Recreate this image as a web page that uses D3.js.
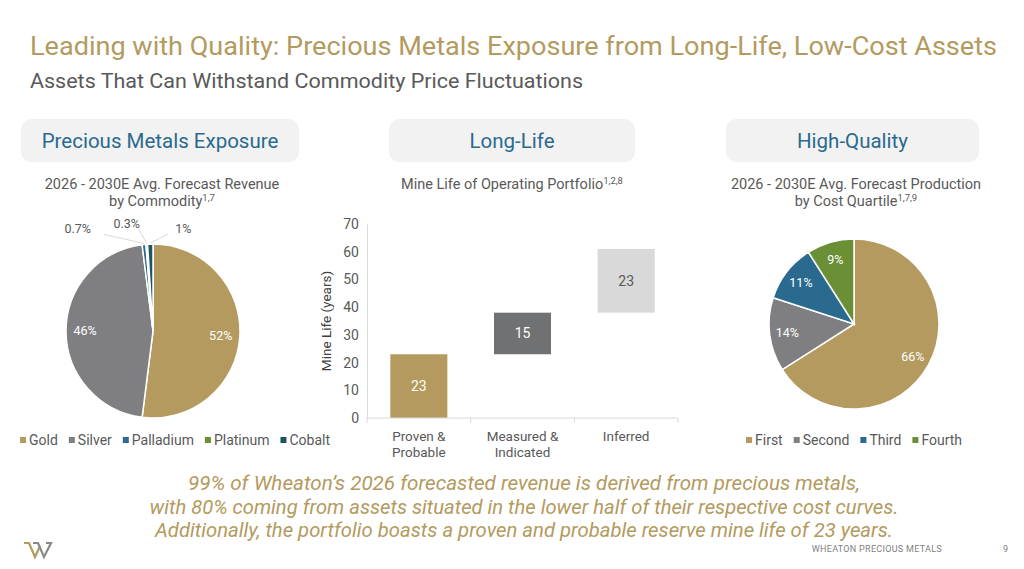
<!DOCTYPE html>
<html>
<head>
<meta charset="utf-8">
<script src="https://cdn.jsdelivr.net/npm/d3@7"></script>
<style>
  html, body { margin: 0; padding: 0; background: #fff; }
  #main { width: 1024px; height: 569px; overflow: hidden; }
  text { font-family: Roboto, "Noto Sans", sans-serif; }
</style>
</head>
<body>
<div id="main"></div>
<script>
// revenue by commodity (left pie)
const commodities = ['Gold', 'Silver', 'Palladium', 'Platinum', 'Cobalt'];
const commodityShares = [52, 46, 0.7, 0.3, 1];
const commodityLabels = ['52%', '46%', '0.7%', '0.3%', '1%'];

// production by cost quartile (right pie)
const quartiles = ['First', 'Second', 'Third', 'Fourth'];
const quartileShares = [66, 14, 11, 9];
const quartileLabels = ['66%', '14%', '11%', '9%'];

// mine life (middle floating bars)
const reserveCategories = ['Proven & Probable', 'Measured & Indicated', 'Inferred'];
const reserveLines = [['Proven &', 'Probable'], ['Measured &', 'Indicated'], ['Inferred']];
const reserveYears = [23, 15, 23];
const yTicks = [0, 10, 20, 30, 40, 50, 60, 70];

const gold = '#b49a5e', grey = '#7f7f82', blue = '#2a6a8f', green = '#6a8f34', teal = '#1f5461';
const commodityColor = d3.scaleOrdinal().domain(commodities).range([gold, grey, blue, green, teal]);
const quartileColor = d3.scaleOrdinal().domain(quartiles).range([gold, grey, blue, green]);
const barColor = d3.scaleOrdinal().domain(reserveCategories).range([gold, '#707173', '#d9d9d9']);

const width = 1024, height = 569;

let svg = d3.select('#main')
    .append('svg')
        .attr('width', width)
        .attr('height', height);

// fit a text element to a given width
function fitText(sel, w) {
    const natural = sel.node().getComputedTextLength();
    if (Math.abs(natural - w) > 2) sel.attr('textLength', w).attr('lengthAdjust', 'spacingAndGlyphs');
}

// ---------- titles ----------
let title = svg.append('text')
    .attr('x', 30).attr('y', 55)
    .attr('font-size', 26)
    .attr('fill', '#b39b5f')
    .text('Leading with Quality: Precious Metals Exposure from Long-Life, Low-Cost Assets');
fitText(title, 967);

let subtitle = svg.append('text')
    .attr('x', 30).attr('y', 88)
    .attr('font-size', 20)
    .attr('fill', '#595959')
    .text('Assets That Can Withstand Commodity Price Fluctuations');
fitText(subtitle, 553);

// ---------- header boxes ----------
const headers = [
    { x: 21, w: 278, text: 'Precious Metals Exposure' },
    { x: 389, w: 246, text: 'Long-Life' },
    { x: 726, w: 253, text: 'High-Quality' }
];
svg.selectAll('.hbox')
    .data(headers)
    .enter()
    .append('rect')
        .attr('class', 'hbox')
        .attr('x', d => d.x).attr('y', 119)
        .attr('width', d => d.w).attr('height', 43)
        .attr('rx', 10)
        .attr('fill', '#f2f2f2');
svg.selectAll('.htext')
    .data(headers)
    .enter()
    .append('text')
        .attr('class', 'htext')
        .attr('x', d => d.x + d.w / 2).attr('y', 148)
        .attr('text-anchor', 'middle')
        .attr('font-size', 20.5)
        .attr('fill', blue)
        .text(d => d.text);

// chart sub-headings with superscripts
function subHeading(cx, lines) {
    lines.forEach((l, i) => {
        let t = svg.append('text')
            .attr('x', cx).attr('y', 189 + i * 17)
            .attr('text-anchor', 'middle')
            .attr('font-size', 14.5)
            .attr('fill', '#595959');
        t.append('tspan').text(l[0]);
        if (l[1]) t.append('tspan').attr('font-size', 9.5).attr('dy', -5).text(l[1]);
    });
}
subHeading(162, [['2026 - 2030E Avg. Forecast Revenue'], ['by Commodity', '1,7']]);
subHeading(512, [['Mine Life of Operating Portfolio', '1,2,8']]);
subHeading(856, [['2026 - 2030E Avg. Forecast Production'], ['by Cost Quartile', '1,7,9']]);

// ---------- left pie ----------
const pieL = { cx: 153, cy: 331, r: 87 };
const pie = d3.pie().sort(null).value(d => d.v);
const leftData = pie(commodities.map((c, i) => ({ c: c, v: commodityShares[i], label: commodityLabels[i] })));
const arcL = d3.arc().innerRadius(0).outerRadius(pieL.r);
const labelArcL = d3.arc().innerRadius(pieL.r * 0.78).outerRadius(pieL.r * 0.78);

let gL = svg.append('g').attr('transform', `translate(${pieL.cx},${pieL.cy})`);
gL.selectAll('path')
    .data(leftData)
    .enter()
    .append('path')
        .attr('d', arcL)
        .attr('fill', d => commodityColor(d.data.c))
        .attr('stroke', '#fff')
        .attr('stroke-width', 1.5);
gL.selectAll('.inlabel')
    .data(leftData.filter(d => d.data.v >= 5))
    .enter()
    .append('text')
        .attr('class', 'inlabel')
        .attr('transform', d => `translate(${labelArcL.centroid(d)})`)
        .attr('text-anchor', 'middle')
        .attr('dy', '0.35em')
        .attr('font-size', 12.5)
        .attr('fill', '#fff')
        .text(d => d.data.label);

// outside labels for the tiny slices, spread out horizontally
const small = leftData.filter(d => d.data.v < 5);
const spreadX = [-52, -12, 25], spreadY = [-5, -10, -5];
const outerArc = d3.arc().innerRadius(pieL.r).outerRadius(pieL.r);
small.forEach((d, i) => {
    const p = outerArc.centroid(d);
    const lx = p[0] + spreadX[i], ly = p[1] + spreadY[i] - 6;
    gL.append('polyline')
        .attr('points', [[p[0], p[1] - 1], [lx + (i === 0 ? 12 : i === 1 ? 4 : -7), ly + 1]].join(' '))
        .attr('fill', 'none')
        .attr('stroke', '#d9d9d9')
        .attr('stroke-width', 1);
    gL.append('text')
        .attr('x', lx + (i === 0 ? -1 : i === 1 ? -8 : 0))
        .attr('y', ly)
        .attr('text-anchor', i === 0 ? 'end' : i === 1 ? 'middle' : 'start')
        .attr('font-size', 12.5)
        .attr('fill', '#595959')
        .text(d.data.label);
});

// ---------- right pie ----------
const pieR = { cx: 854, cy: 324, r: 85 };
const rightData = pie(quartiles.map((q, i) => ({ c: q, v: quartileShares[i], label: quartileLabels[i] })));
const arcR = d3.arc().innerRadius(0).outerRadius(pieR.r);
const labelArcR = d3.arc().innerRadius(pieR.r * 0.79).outerRadius(pieR.r * 0.79);
let gR = svg.append('g').attr('transform', `translate(${pieR.cx},${pieR.cy})`);
gR.selectAll('path')
    .data(rightData)
    .enter()
    .append('path')
        .attr('d', arcR)
        .attr('fill', d => quartileColor(d.data.c))
        .attr('stroke', '#fff')
        .attr('stroke-width', 1.5);
gR.selectAll('text')
    .data(rightData)
    .enter()
    .append('text')
        .attr('transform', d => `translate(${labelArcR.centroid(d)})`)
        .attr('text-anchor', 'middle')
        .attr('dy', '0.35em')
        .attr('font-size', 12.5)
        .attr('fill', '#fff')
        .text(d => d.data.label);

// ---------- legends ----------
function legend(x0, y, names, color) {
    let x = x0;
    names.forEach(n => {
        svg.append('rect')
            .attr('x', x).attr('y', y - 4)
            .attr('width', 6).attr('height', 6)
            .attr('fill', color(n));
        let t = svg.append('text')
            .attr('x', x + 9).attr('y', y + 4)
            .attr('font-size', 14)
            .attr('fill', '#595959')
            .text(n);
        x += 9 + t.node().getComputedTextLength() + 11;
    });
}
legend(20, 441, commodities, commodityColor);
legend(746, 441, quartiles, quartileColor);

// ---------- middle floating bars ----------
const y = d3.scaleLinear().domain([0, 70]).range([418, 224]);
const x = d3.scaleBand().domain(reserveCategories).range([367, 678]).paddingInner(0.45).paddingOuter(0.225);
const bases = [0].concat(Array.from(d3.cumsum(reserveYears)).slice(0, -1));

let gB = svg.append('g');
gB.selectAll('.bar')
    .data(reserveCategories)
    .enter()
    .append('rect')
        .attr('class', 'bar')
        .attr('x', d => x(d))
        .attr('width', x.bandwidth())
        .attr('y', (d, i) => y(bases[i] + reserveYears[i]))
        .attr('height', (d, i) => y(bases[i]) - y(bases[i] + reserveYears[i]))
        .attr('fill', d => barColor(d));
gB.selectAll('.barlabel')
    .data(reserveCategories)
    .enter()
    .append('text')
        .attr('class', 'barlabel')
        .attr('x', d => x(d) + x.bandwidth() / 2)
        .attr('y', (d, i) => y(bases[i] + reserveYears[i] / 2))
        .attr('dy', '0.35em')
        .attr('text-anchor', 'middle')
        .attr('font-size', 14)
        .attr('fill', (d, i) => i < 2 ? '#fff' : '#595959')
        .text((d, i) => reserveYears[i]);

// y axis
let yAxis = svg.append('g')
    .attr('transform', 'translate(367,0)')
    .call(d3.axisLeft(y).tickValues(yTicks).tickSize(0).tickPadding(8));
yAxis.select('.domain').attr('stroke', '#d9d9d9');
yAxis.selectAll('text').attr('font-size', 14).attr('fill', '#595959').attr('font-family', 'Roboto, sans-serif');

// x axis with ticks between categories
let xAxisG = svg.append('g').attr('transform', 'translate(0,418)');
xAxisG.append('line').attr('x1', 367).attr('x2', 678).attr('stroke', '#d9d9d9');
d3.range(reserveCategories.length + 1).forEach(i => {
    const xx = 367 + i * (311 / reserveCategories.length);
    xAxisG.append('line').attr('x1', xx).attr('x2', xx).attr('y1', 0).attr('y2', 5).attr('stroke', '#d9d9d9');
});
reserveCategories.forEach((c, i) => {
    let t = xAxisG.append('text')
        .attr('x', x(c) + x.bandwidth() / 2)
        .attr('y', 23)
        .attr('text-anchor', 'middle')
        .attr('font-size', 13.5)
        .attr('fill', '#595959');
    reserveLines[i].forEach((l, j) => {
        t.append('tspan').attr('x', x(c) + x.bandwidth() / 2).attr('dy', j === 0 ? 0 : 16).text(l);
    });
});

svg.append('text')
    .attr('transform', 'translate(331,321) rotate(-90)')
    .attr('text-anchor', 'middle')
    .attr('font-size', 13.5)
    .attr('fill', '#404040')
    .text('Mine Life (years)');

// ---------- bottom statement ----------
const statement = [
    { t: '99% of Wheaton\u2019s 2026 forecasted revenue is derived from precious metals,', w: 672 },
    { t: 'with 80% coming from assets situated in the lower half of their respective cost curves.', w: 749 },
    { t: 'Additionally, the portfolio boasts a proven and probable reserve mine life of 23 years.', w: 738 }
];
statement.forEach((s, i) => {
    let t = svg.append('text')
        .attr('x', 524).attr('y', 490 + i * 23.5)
        .attr('text-anchor', 'middle')
        .attr('font-size', 20)
        .attr('font-style', 'italic')
        .attr('font-weight', 400)
        .attr('fill', '#b39a5e')
        .text(s.t);
    fitText(t, s.w);
});

// ---------- footer ----------
svg.append('text')
    .attr('x', 942).attr('y', 552)
    .attr('text-anchor', 'end')
    .attr('font-size', 9)
    .attr('letter-spacing', 0.3)
    .attr('fill', '#7f7f7f')
    .text('WHEATON  PRECIOUS METALS');
svg.append('text')
    .attr('x', 1008).attr('y', 552)
    .attr('text-anchor', 'end')
    .attr('font-size', 9)
    .attr('fill', '#7f7f7f')
    .text('9');

// logo: gold and grey strokes forming a W
let logo = svg.append('g').attr('fill', 'none').attr('stroke-width', 2.2).attr('stroke-linejoin', 'miter');
logo.append('path').attr('d', 'M24,543 H29 L35,557 L40,546').attr('stroke', gold);
logo.append('path').attr('d', 'M33,543 H38 L44,557 L51,543 H46').attr('stroke', '#8a8a8d');
</script>
</body>
</html>
